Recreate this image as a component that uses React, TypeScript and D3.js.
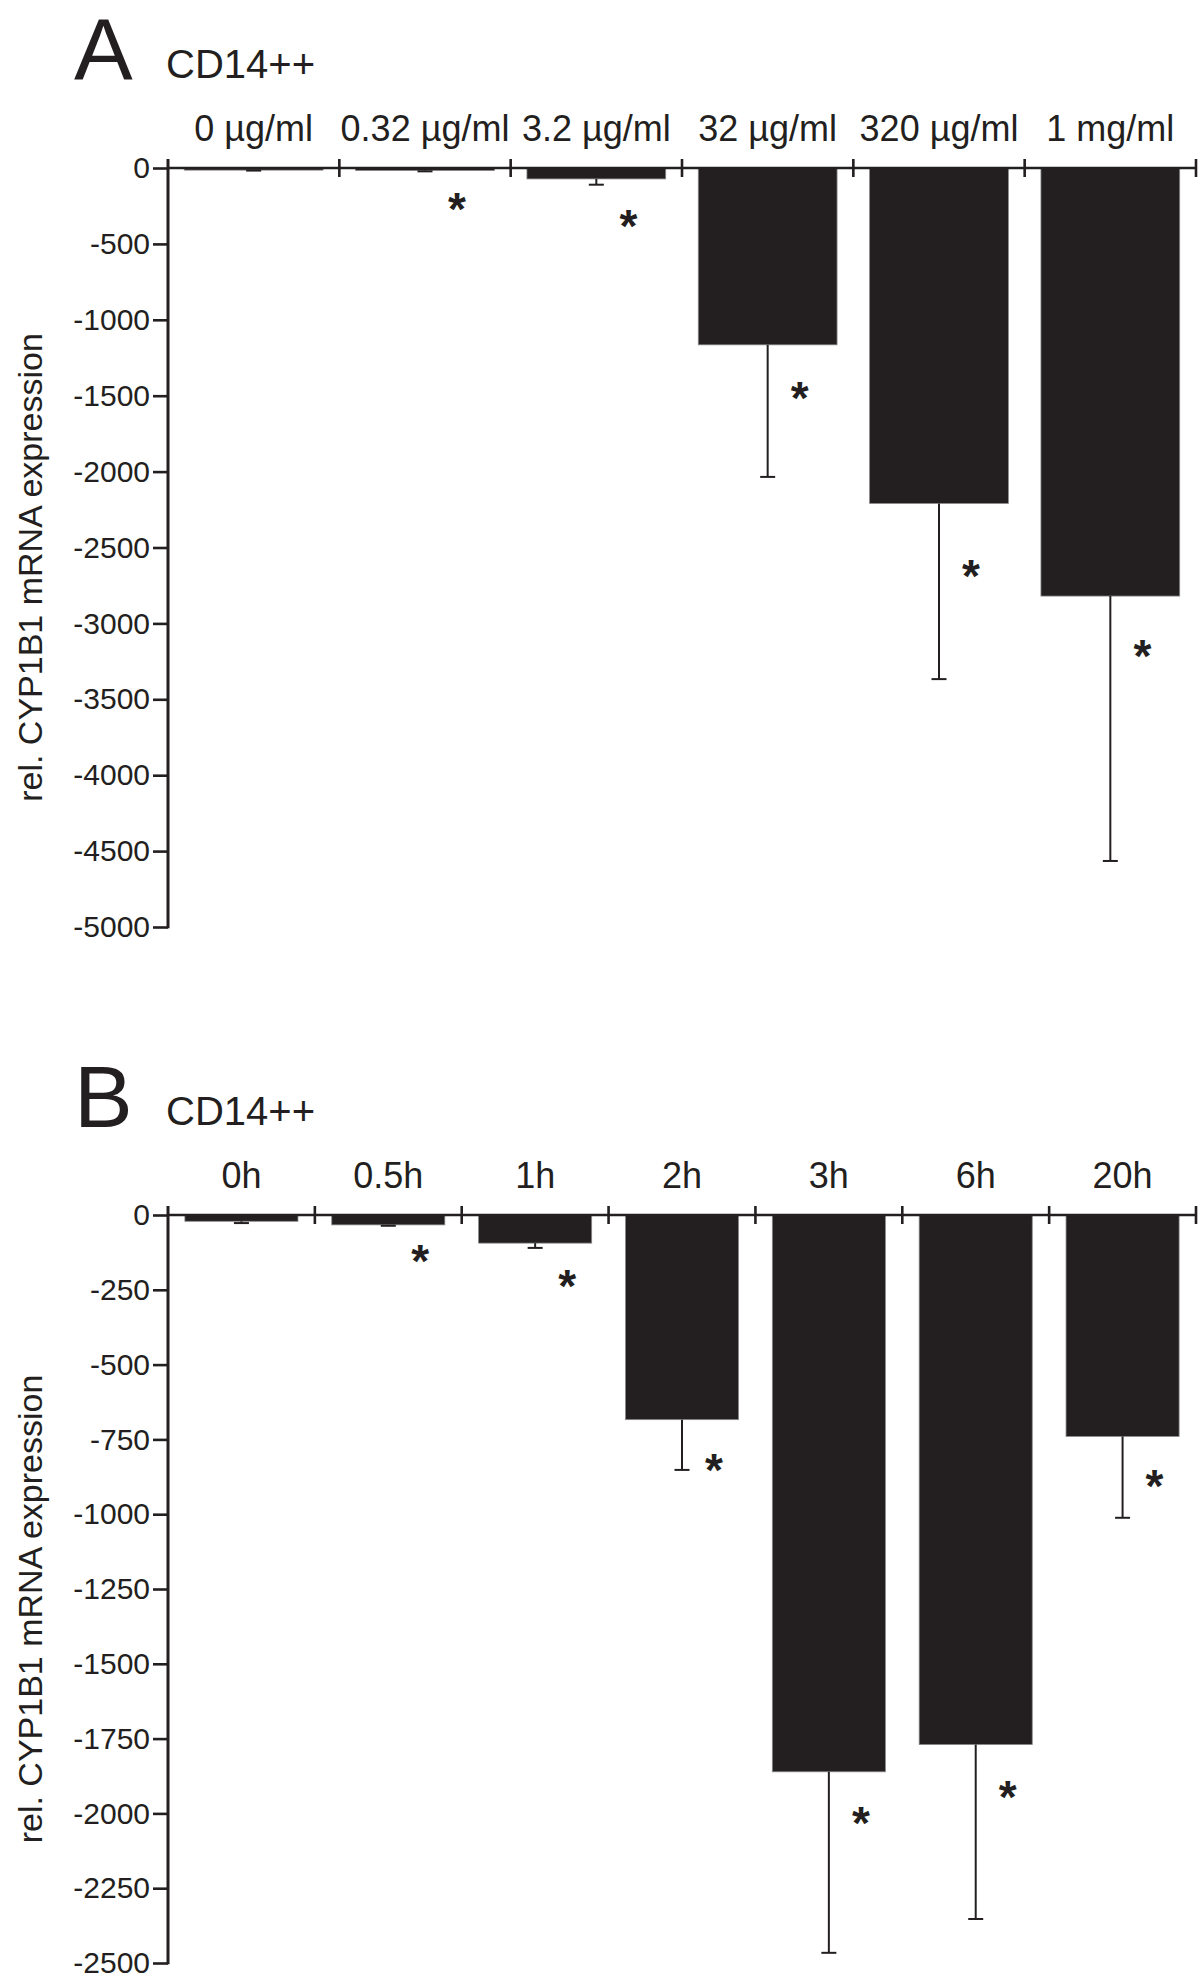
import { useEffect, useRef } from 'react'
import * as d3 from 'd3'

// panel A: dose series
const doseLabels = ['0 µg/ml', '0.32 µg/ml', '3.2 µg/ml', '32 µg/ml', '320 µg/ml', '1 mg/ml']
const doseMeans = [-14, -17, -72, -1165, -2210, -2820]
const doseErr = [3, 5, 38, 870, 1157, 1745]
const doseStars: (number | null)[] = [null, -200, -312, -1445, -2615, -3143]
const doseTicks = [0, -500, -1000, -1500, -2000, -2500, -3000, -3500, -4000, -4500, -5000]

// panel B: time series
const timeLabels = ['0h', '0.5h', '1h', '2h', '3h', '6h', '20h']
const timeMeans = [-21, -33, -94, -684, -1861, -1770, -740]
const timeErr = [6, 3, 16, 168, 605, 583, 272]
const timeStars: (number | null)[] = [null, -119, -202, -816, -1997, -1909, -870]
const timeTicks = [0, -250, -500, -750, -1000, -1250, -1500, -1750, -2000, -2250, -2500]

const INK = '#231f20'
const FONT = '"Liberation Sans", Arial, Helvetica, sans-serif'

interface PanelCfg {
  letter: string
  labels: string[]
  means: number[]
  errs: number[]
  stars: (number | null)[]
  ticks: number[]
  top: number
  bottom: number
  barFrac: number
}

function drawPanel(svg: d3.Selection<SVGSVGElement, unknown, null, undefined>, cfg: PanelCfg) {
  const left = 168
  const right = 1196
  const x = d3.scaleBand<string>().domain(cfg.labels).range([left, right]).padding(0)
  const y = d3.scaleLinear()
    .domain([0, d3.min(cfg.ticks)!])
    .range([cfg.top, cfg.bottom])

  const g = svg.append('g').attr('font-family', FONT).attr('fill', INK)

  // panel letter + cell type
  g.append('text')
    .attr('x', 74)
    .attr('y', cfg.top - 88)
    .attr('font-size', 88)
    .attr('fill', INK)
    .text(cfg.letter)
  g.append('text')
    .attr('x', 166)
    .attr('y', cfg.top - 90)
    .attr('font-size', 40)
    .attr('fill', INK)
    .text('CD14++')

  // bars
  const bw = x.bandwidth() * cfg.barFrac
  g.selectAll('.bar')
    .data(cfg.means)
    .enter()
    .append('rect')
    .attr('class', 'bar')
    .attr('x', (_, i) => x(cfg.labels[i])! + x.bandwidth() / 2 - bw / 2)
    .attr('y', y(0))
    .attr('width', bw)
    .attr('height', d => y(d) - y(0))
    .attr('fill', INK)
    .attr('stroke', '#8a8a8a')
    .attr('stroke-width', 0.8)

  // error bars (downward only)
  const eb = g.append('g').attr('stroke', INK).attr('stroke-width', 2)
  cfg.means.forEach((m, i) => {
    const cx = x(cfg.labels[i])! + x.bandwidth() / 2
    const end = y(m - cfg.errs[i])
    eb.append('line').attr('x1', cx).attr('x2', cx).attr('y1', y(m)).attr('y2', end)
    eb.append('line').attr('x1', cx - 7.5).attr('x2', cx + 7.5).attr('y1', end).attr('y2', end)
  })

  // significance stars
  const starSize = 46
  cfg.stars.forEach((s, i) => {
    if (s == null) return
    const cx = x(cfg.labels[i])! + x.bandwidth() / 2
    g.append('text')
      .attr('x', cx + 32)
      .attr('y', y(s) + starSize * 0.58)
      .attr('text-anchor', 'middle')
      .attr('font-size', starSize)
      .attr('font-weight', 'bold')
      .attr('fill', INK)
      .text('*')
  })

  // y axis
  const yAxis = g.append('g')
    .attr('transform', `translate(${left},0)`)
    .call(d3.axisLeft(y).tickValues(cfg.ticks).tickSize(15).tickPadding(3).tickSizeOuter(0).tickFormat(d => String(d)))
  yAxis.select('.domain').remove()
  yAxis.selectAll('line').attr('stroke', INK).attr('stroke-width', 2.6)
  yAxis.selectAll('text')
    .attr('fill', INK)
    .style('font-family', FONT)
    .style('font-size', '30px')
  g.append('line')
    .attr('x1', left).attr('x2', left)
    .attr('y1', cfg.top - 9).attr('y2', cfg.bottom + 1.3)
    .attr('stroke', INK).attr('stroke-width', 3)

  // category axis on the zero line, labels above
  const xAxis = g.append('g')
    .attr('transform', `translate(0,${y(0)})`)
    .call(d3.axisTop(x).tickSize(0).tickPadding(27))
  xAxis.select('.domain').remove()
  xAxis.selectAll('text')
    .attr('fill', INK)
    .style('font-family', FONT)
    .style('font-size', '36px')
  g.append('line')
    .attr('x1', left).attr('x2', right)
    .attr('y1', y(0)).attr('y2', y(0))
    .attr('stroke', INK).attr('stroke-width', 2.6)
  const bounds = [...cfg.labels.map(l => x(l)!).slice(1), right]
  g.selectAll('.btick')
    .data(bounds)
    .enter()
    .append('line')
    .attr('class', 'btick')
    .attr('x1', d => d).attr('x2', d => d)
    .attr('y1', y(0) - 9).attr('y2', y(0) + 9)
    .attr('stroke', INK).attr('stroke-width', 2.6)

  // y axis title
  g.append('text')
    .attr('transform', `translate(42,${(cfg.top + cfg.bottom) / 2 + 20}) rotate(-90)`)
    .attr('text-anchor', 'middle')
    .attr('font-size', 34)
    .attr('fill', INK)
    .text('rel. CYP1B1 mRNA expression')
}

export default function App() {
  const svgRef = useRef<SVGSVGElement>(null)

  useEffect(() => {
    if (!svgRef.current) return
    const svg = d3.select(svgRef.current)
    svg.selectAll('*').remove()

    drawPanel(svg, {
      letter: 'A',
      labels: doseLabels,
      means: doseMeans,
      errs: doseErr,
      stars: doseStars,
      ticks: doseTicks,
      top: 168,
      bottom: 927,
      barFrac: 0.81,
    })
    drawPanel(svg, {
      letter: 'B',
      labels: timeLabels,
      means: timeMeans,
      errs: timeErr,
      stars: timeStars,
      ticks: timeTicks,
      top: 1215,
      bottom: 1963,
      barFrac: 0.77,
    })
  }, [])

  return (
    <svg
      ref={svgRef}
      width={1200}
      height={1984}
      style={{ position: 'absolute', left: 0, top: 0, background: '#fff', display: 'block' }}
    />
  )
}
